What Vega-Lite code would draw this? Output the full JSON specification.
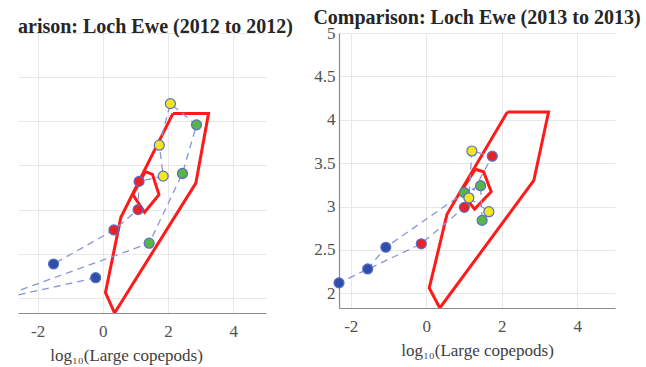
{
  "$schema": "https://vega.github.io/schema/vega-lite/v6.json",
  "background": "white",
  "padding": {"left": 18, "top": 8, "right": 4, "bottom": 4},
  "bounds": "flush",
  "spacing": 73,
  "config": {
    "view": {"stroke": null},
    "font": "Liberation Serif",
    "title": {"font": "Liberation Serif", "fontSize": 20, "fontWeight": "bold", "color": "#262626", "frame": "group", "offset": -2, "dy": 2},
    "axis": {
      "labelFont": "Liberation Serif", "labelFontSize": 17, "labelColor": "#505050",
      "titleFont": "Liberation Serif", "titleFontSize": 17, "titleFontWeight": "normal", "titleColor": "#404040",
      "gridColor": "#e8e8e8", "gridWidth": 1, "domainColor": "#8a8a8a", "domainWidth": 1.2,
      "ticks": false, "labelPadding": 10, "titlePadding": 8
    }
  },
  "datasets": {
    "poly": [
      {"shape": "outer", "i": 1, "x": 2.15, "y": 4.09},
      {"shape": "outer", "i": 2, "x": 3.24, "y": 4.09},
      {"shape": "outer", "i": 3, "x": 2.85, "y": 3.30},
      {"shape": "outer", "i": 4, "x": 0.36, "y": 1.83},
      {"shape": "outer", "i": 5, "x": 0.08, "y": 2.06},
      {"shape": "outer", "i": 6, "x": 0.55, "y": 2.91},
      {"shape": "outer", "i": 7, "x": 2.15, "y": 4.09},
      {"shape": "inner", "i": 1, "x": 1.30, "y": 3.43},
      {"shape": "inner", "i": 2, "x": 1.52, "y": 3.40},
      {"shape": "inner", "i": 3, "x": 1.72, "y": 3.17},
      {"shape": "inner", "i": 4, "x": 1.28, "y": 2.97},
      {"shape": "inner", "i": 5, "x": 0.92, "y": 3.17},
      {"shape": "inner", "i": 6, "x": 1.30, "y": 3.43}
    ],
    "traj": [
      {"year": 2012, "month": 1, "season": "winter", "x": -0.22, "y": 2.23},
      {"year": 2012, "month": 2, "season": "winter", "x": -3.5, "y": 1.96},
      {"year": 2012, "month": 3, "season": "spring", "x": 1.42, "y": 2.62},
      {"year": 2012, "month": 4, "season": "spring", "x": 2.44, "y": 3.41},
      {"year": 2012, "month": 5, "season": "spring", "x": 2.87, "y": 3.96},
      {"year": 2012, "month": 6, "season": "summer", "x": 2.07, "y": 4.20},
      {"year": 2012, "month": 7, "season": "summer", "x": 1.73, "y": 3.73},
      {"year": 2012, "month": 8, "season": "summer", "x": 1.85, "y": 3.38},
      {"year": 2012, "month": 9, "season": "autumn", "x": 1.11, "y": 3.32},
      {"year": 2012, "month": 10, "season": "autumn", "x": 1.08, "y": 3.00},
      {"year": 2012, "month": 11, "season": "autumn", "x": 0.34, "y": 2.77},
      {"year": 2012, "month": 12, "season": "winter", "x": -1.51, "y": 2.385},
      {"year": 2013, "month": 1, "season": "winter", "x": -1.55, "y": 2.28},
      {"year": 2013, "month": 2, "season": "winter", "x": -1.07, "y": 2.53},
      {"year": 2013, "month": 3, "season": "spring", "x": 1.01, "y": 3.16},
      {"year": 2013, "month": 4, "season": "spring", "x": 1.44, "y": 3.24},
      {"year": 2013, "month": 5, "season": "spring", "x": 1.48, "y": 2.84},
      {"year": 2013, "month": 6, "season": "summer", "x": 1.66, "y": 2.94},
      {"year": 2013, "month": 7, "season": "summer", "x": 1.13, "y": 3.10},
      {"year": 2013, "month": 8, "season": "summer", "x": 1.21, "y": 3.64},
      {"year": 2013, "month": 9, "season": "autumn", "x": 1.75, "y": 3.58},
      {"year": 2013, "month": 10, "season": "autumn", "x": 1.01, "y": 2.99},
      {"year": 2013, "month": 11, "season": "autumn", "x": -0.13, "y": 2.57},
      {"year": 2013, "month": 12, "season": "winter", "x": -2.31, "y": 2.12}
    ]
  },
  "hconcat": [
    {
      "width": 248,
      "height": 280,
      "title": {"text": "arison: Loch Ewe (2012 to 2012)", "anchor": "end", "dx": 27},
      "encoding": {
        "x": {"field": "x", "type": "quantitative", "scale": {"domain": [-2.6, 5], "nice": false, "zero": false},
              "axis": {"values": [-2, 0, 2, 4], "labelExpr": "'' + datum.value", "labelFont": "Liberation Serif", "title": "log₁₀(Large copepods)", "titleX": 108}},
        "y": {"field": "y", "type": "quantitative", "scale": {"domain": [1.83, 5], "nice": false, "zero": false},
              "axis": {"values": [2, 2.5, 3, 3.5, 4, 4.5, 5], "labels": false, "domain": false, "title": null}}
      },
      "layer": [
        {"data": {"name": "poly"}, "mark": {"type": "line", "color": "#ff1a1a", "strokeWidth": 3, "clip": true, "strokeJoin": "miter"},
         "encoding": {"detail": {"field": "shape"}, "order": {"field": "i", "type": "quantitative"}}},
        {"data": {"name": "traj"}, "transform": [{"filter": "datum.year == 2012"}],
         "mark": {"type": "line", "color": "#8797d6", "strokeWidth": 1.3, "strokeDash": [7, 5], "clip": true},
         "encoding": {"order": {"field": "month", "type": "quantitative"}}},
        {"data": {"name": "traj"}, "transform": [{"filter": "datum.year == 2012"}],
         "mark": {"type": "point", "filled": true, "shape": "circle", "size": 100, "stroke": "#5a6ec6", "strokeWidth": 1.2, "opacity": 1, "clip": true},
         "encoding": {"fill": {"field": "season", "type": "nominal", "legend": null,
           "scale": {"domain": ["winter", "spring", "summer", "autumn"], "range": ["#2f4ea8", "#58b548", "#f2e61c", "#e8222b"]}}}}
      ]
    },
    {
      "width": 276,
      "height": 275,
      "title": {"text": "Comparison: Loch Ewe (2013 to 2013)", "anchor": "middle"},
      "encoding": {
        "x": {"field": "x", "type": "quantitative", "scale": {"domain": [-2.31, 5], "nice": false, "zero": false},
              "axis": {"values": [-2, 0, 2, 4], "labelExpr": "'' + datum.value", "labelFont": "Liberation Serif", "title": "log₁₀(Large copepods)"}},
        "y": {"field": "y", "type": "quantitative", "scale": {"domain": [1.83, 5], "nice": false, "zero": false},
              "axis": {"values": [2, 2.5, 3, 3.5, 4, 4.5, 5], "labelExpr": "'' + datum.value", "labelFont": "Liberation Serif", "labelPadding": 4, "title": null}}
      },
      "layer": [
        {"data": {"name": "poly"}, "mark": {"type": "line", "color": "#ff1a1a", "strokeWidth": 3, "clip": true, "strokeJoin": "miter"},
         "encoding": {"detail": {"field": "shape"}, "order": {"field": "i", "type": "quantitative"}}},
        {"data": {"name": "traj"}, "transform": [{"filter": "datum.year == 2013"}],
         "mark": {"type": "line", "color": "#8797d6", "strokeWidth": 1.3, "strokeDash": [7, 5], "clip": true},
         "encoding": {"order": {"field": "month", "type": "quantitative"}}},
        {"data": {"name": "traj"}, "transform": [{"filter": "datum.year == 2013"}],
         "mark": {"type": "point", "filled": true, "shape": "circle", "size": 100, "stroke": "#5a6ec6", "strokeWidth": 1.2, "opacity": 1, "clip": false},
         "encoding": {"fill": {"field": "season", "type": "nominal", "legend": null,
           "scale": {"domain": ["winter", "spring", "summer", "autumn"], "range": ["#2f4ea8", "#58b548", "#f2e61c", "#e8222b"]}}}}
      ]
    }
  ]
}
